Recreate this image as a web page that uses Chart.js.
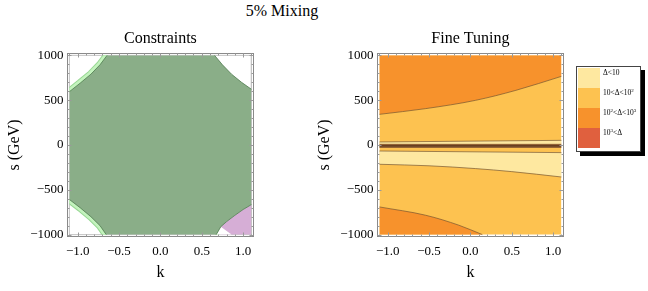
<!DOCTYPE html>
<html><head><meta charset="utf-8">
<script src="https://cdn.jsdelivr.net/npm/chart.js@4.4.1/dist/chart.umd.min.js"></script>
<style>
html,body{margin:0;padding:0;background:#fff;width:648px;height:291px;overflow:hidden;}
#main{position:absolute;left:232px;top:1px;width:100px;text-align:center;font:16px 'Liberation Serif',serif;line-height:20px;color:#000;white-space:nowrap}
#c1{position:absolute;left:0;top:0}
#c2{position:absolute;left:310px;top:0}
#legend{position:absolute;left:576px;top:66px;width:63px;height:84px;border:1px solid #444;background:#fff;box-shadow:4px 4px 0 #000;}
#legend .sw{position:absolute;left:1px;width:22px;height:20px}
#legend .tx{position:absolute;left:26px;height:20px;line-height:20px;font:7.5px 'Liberation Serif',serif;color:#000;white-space:nowrap}
#legend sup{font-size:5px;vertical-align:3px;line-height:0}
</style></head><body>
<div id="main">5% Mixing</div>
<canvas id="c1" width="324" height="291" style="width:324px;height:291px"></canvas>
<canvas id="c2" width="338" height="291" style="width:338px;height:291px"></canvas>
<div id="legend"></div>
<script>
// ---- axes ----
const kTicks = [-1, -0.5, 0, 0.5, 1];
const sTicks = [-1000, -500, 0, 500, 1000];
const kAxis = [-1.135, 1.135];
const sAxis = [-1030, 1030];
const kMinorStep = 0.1;
const sMinorStep = 100;

// ---- left panel: Constraints ----
const dataBox = [[-1.1,-1000],[-1.1,1000],[1.1,1000],[1.1,-1000],[-1.1,-1000]];
const arcTopLeft = [[-1.1,595],[-0.97,690],[-0.84,790],[-0.73,895],[-0.645,1000]];
const arcTopRight = [[0.655,1000],[0.75,895],[0.86,790],[0.98,700],[1.1,622]];
const arcBottomLeft = [[-1.1,-608],[-0.97,-700],[-0.84,-800],[-0.73,-900],[-0.655,-1000]];
const arcBottomRight = [[0.675,-1000],[0.73,-912],[0.80,-855],[0.90,-785],[1.0,-720],[1.1,-665]];
const bandBottomRight = [[0.675,-1000],[0.73,-912]];
const pinkEdge = [[0.73,-912],[0.80,-855],[0.90,-785],[1.0,-720],[1.1,-665]];
const gapTriangle = [[0.675,-1000],[0.73,-912],[0.86,-1000]];
const greenUpper = arcTopLeft.concat(arcTopRight);
const greenLower = arcBottomLeft.concat(arcBottomRight);

// ---- right panel: Fine Tuning ----
const baseTop = [[-1.1,1000],[1.1,1000]];
const curve1 = [[-1.1,342],[-0.54,406],[0.06,498],[0.55,610],[1.1,766]];
const curve2 = [[-1.1,34],[1.1,52]];
const darkTop = [[-1.1,8],[1.1,8]];
const darkMid = [[-1.1,-10],[1.1,-10]];
const darkBot = [[-1.1,-28],[1.1,-28]];
const curve3 = [[-1.1,-67],[1.1,-85]];
const curve4 = [[-1.1,-215],[-0.5,-232],[0.06,-263],[0.5,-297],[1.1,-357]];
const curve5 = [[-1.1,-691],[-0.54,-784],[-0.14,-895],[0.145,-1000]];

const legendLabels = ['Δ&lt;10','10&lt;Δ&lt;10<sup>2</sup>','10<sup>2</sup>&lt;Δ&lt;10<sup>3</sup>','10<sup>3</sup>&lt;Δ'];
const legendColors = ['#FEE8A0','#FDC250','#F7922C','#E0603E'];

const FONT = "'Liberation Serif', serif";
const pts = a => a.map(p => ({x:p[0], y:p[1]}));
const fmtK = v => (v < 0 ? '\u2212' : '') + Math.abs(v).toFixed(1);
const fmtS = v => (v < 0 ? '\u2212' : '') + String(Math.abs(v));
const innerClip = {left:-2.8, right:-2.8, top:-2.6, bottom:-2.6};

function ds(data, o) {
  return Object.assign({data: pts(data), pointRadius:0, pointHoverRadius:0, pointHitRadius:0,
    borderWidth:0.8, borderColor:'rgba(0,0,0,0)', fill:false, tension:0}, o);
}

const framePlugin = {
  id:'frameTicks',
  afterDatasetsDraw(chart) {
    const {ctx, chartArea:a, scales} = chart;
    const xs = scales.x, ys = scales.y;
    const L = Math.round(a.left)+0.5, R = Math.round(a.right)-0.5, T = Math.round(a.top)+0.5, B = Math.round(a.bottom)-0.5;
    ctx.save();
    ctx.strokeStyle = '#8a8a8a'; ctx.lineWidth = 1;
    ctx.strokeRect(L, T, R-L, B-T);
    ctx.strokeStyle = '#9a9a9a';
    ctx.beginPath();
    const isMajor = (v, arr) => arr.some(t => Math.abs(t-v) < 1e-6);
    for (let i = -11; i <= 11; i++) {
      const v = i*kMinorStep;
      const len = isMajor(v, kTicks) ? 4 : 2;
      const px = Math.round(xs.getPixelForValue(v))+0.5;
      ctx.moveTo(px, B); ctx.lineTo(px, B-len);
      ctx.moveTo(px, T); ctx.lineTo(px, T+len);
    }
    for (let i = -10; i <= 10; i++) {
      const v = i*sMinorStep;
      const len = isMajor(v, sTicks) ? 4 : 2;
      const py = Math.round(ys.getPixelForValue(v))+0.5;
      ctx.moveTo(L, py); ctx.lineTo(L+len, py);
      ctx.moveTo(R, py); ctx.lineTo(R-len, py);
    }
    ctx.stroke();
    ctx.restore();
  }
};

function makeOptions(title, rightPad) {
  return {
    responsive:false, animation:false, devicePixelRatio:1, events:[],
    layout:{padding:{left:0, right:rightPad, top:0, bottom:0}},
    plugins:{
      legend:{display:false}, tooltip:{enabled:false},
      title:{display:true, text:title, fullSize:false, color:'#000',
        font:{family:FONT, size:16, weight:'normal', lineHeight:1.2},
        padding:{top:29.4, bottom:4.1}}
    },
    scales:{
      x:{type:'linear', min:kAxis[0], max:kAxis[1],
        afterBuildTicks:s => { s.ticks = kTicks.map(v => ({value:v})); },
        afterFit:s => { s.height = 53.7; },
        grid:{display:false, drawTicks:false}, border:{display:false},
        ticks:{color:'#000', padding:6, maxRotation:0, autoSkip:false, font:{family:FONT, size:13}, callback:v => fmtK(v)},
        title:{display:true, text:'k', color:'#000', font:{family:FONT, size:16, lineHeight:1.2}, padding:{top:0, bottom:8.4}}
      },
      y:{type:'linear', min:sAxis[0], max:sAxis[1],
        afterBuildTicks:s => { s.ticks = sTicks.map(v => ({value:v})); },
        afterFit:s => { s.width = 66.5; },
        grid:{display:false, drawTicks:false}, border:{display:false},
        ticks:{color:'#000', padding:3, autoSkip:false, font:{family:FONT, size:13}, callback:v => fmtS(v)},
        title:{display:true, text:'s (GeV)', color:'#000', font:{family:FONT, size:16, lineHeight:1.2}, padding:{top:5.4, bottom:0}}
      }
    }
  };
}

function ordered(list) {
  return list.map((d, i) => Object.assign(d, {order: list.length - i}));
}

const GREEN_EDGE = '#4C7A4C';
const BAND_OUT = '#98d794', BAND_IN = '#c3f3bd';
const leftSets = ordered([
  ds(dataBox, {borderColor:'#c4c4c4', borderWidth:1}),
  ds(arcTopLeft, {borderColor:BAND_OUT, borderWidth:8, clip:innerClip}),
  ds(arcTopLeft, {borderColor:BAND_IN, borderWidth:6, clip:innerClip}),
  ds(arcBottomLeft, {borderColor:BAND_OUT, borderWidth:8, clip:innerClip}),
  ds(arcBottomLeft, {borderColor:BAND_IN, borderWidth:6, clip:innerClip}),
  ds(bandBottomRight, {borderColor:BAND_OUT, borderWidth:6, clip:innerClip}),
  ds(bandBottomRight, {borderColor:BAND_IN, borderWidth:4, clip:innerClip}),
  ds(pinkEdge, {fill:{value:-1000}, backgroundColor:'#D6AED6'}),
  ds(gapTriangle, {fill:{value:-1000}, backgroundColor:'#ffffff'}),
  ds(greenUpper, {fill:10, backgroundColor:'#8AAE88'}),
  ds(greenLower, {backgroundColor:'#8AAE88'}),
  ds(arcTopLeft, {borderColor:GREEN_EDGE}),
  ds(arcTopRight, {borderColor:GREEN_EDGE}),
  ds(arcBottomLeft, {borderColor:GREEN_EDGE}),
  ds(arcBottomRight, {borderColor:GREEN_EDGE})
]);

const LINE = 'rgba(105,75,45,0.8)';
const rightSets = ordered([
  ds(baseTop, {fill:{value:-1000}, backgroundColor:'#FDC250'}),
  ds(curve1, {fill:{value:1000}, backgroundColor:'#F7922C', borderColor:LINE, cubicInterpolationMode:'monotone'}),
  ds(curve5, {fill:{value:-1000}, backgroundColor:'#F7922C', borderColor:LINE, cubicInterpolationMode:'monotone'}),
  ds(curve3, {fill:4, backgroundColor:'#FEE8A0', borderColor:LINE}),
  ds(curve4, {borderColor:LINE, cubicInterpolationMode:'monotone'}),
  ds(curve2, {fill:6, backgroundColor:'#FEE8A0', borderColor:LINE}),
  ds(darkTop, {fill:7, backgroundColor:'#94623A', borderColor:'#74482A', borderWidth:0.6}),
  ds(darkBot, {borderColor:'#74482A', borderWidth:0.6}),
  ds(darkMid, {borderColor:'#5A3418', borderWidth:1.2})
]);

new Chart(document.getElementById('c1'), {type:'line', data:{datasets:leftSets}, options:makeOptions('Constraints', 69.7), plugins:[framePlugin]});
new Chart(document.getElementById('c2'), {type:'line', data:{datasets:rightSets}, options:makeOptions('Fine Tuning', 83.7), plugins:[framePlugin]});

const leg = document.getElementById('legend');
legendLabels.forEach((t, i) => {
  const sw = document.createElement('div'); sw.className = 'sw';
  sw.style.top = (1 + 20*i) + 'px'; sw.style.background = legendColors[i];
  const tx = document.createElement('div'); tx.className = 'tx';
  tx.style.top = (1 + 20*i) + 'px'; tx.innerHTML = t;
  leg.appendChild(sw); leg.appendChild(tx);
});
</script>
</body></html>
